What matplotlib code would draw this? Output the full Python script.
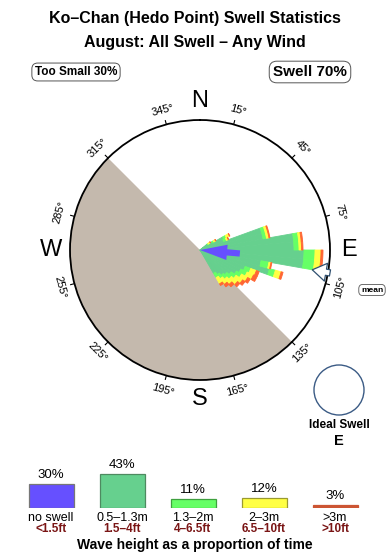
import numpy as np
import matplotlib
matplotlib.use("Agg")
import matplotlib.pyplot as plt
from matplotlib.patches import Circle

plt.rcParams['font.family'] = ['Liberation Sans', 'DejaVu Sans']

# swell rose, 5 degree bins, lengths per height class (circle edge = 13)
directions = [52.5, 57.5, 62.5, 67.5, 72.5, 77.5, 82.5, 87.5, 92.5, 97.5,
              102.5, 107.5, 112.5, 117.5, 122.5, 127.5, 132.5, 137.5, 142.5, 147.5]
h_green = [0.9, 1.4, 2.6, 2.5, 6.4, 6.4, 9.4, 9.4, 10.4, 10.4,
           6.2, 7.2, 4.8, 4.5, 4.2, 3.8, 3.5, 3.3, 3.0, 2.7]
h_lgreen = [0.1, 0.2, 0.3, 0.3, 0.35, 0.35, 0.5, 0.5, 1.1, 1.1,
            0.8, 0.6, 0.6, 0.7, 0.6, 0.6, 0.6, 0.5, 0.5, 0.5]
h_yellow = [0.25, 0.2, 0.35, 0.2, 0.25, 0.25, 0.25, 0.25, 0.6, 0.6,
            0.2, 0.6, 0.6, 0.7, 0.7, 0.8, 0.8, 0.7, 0.7, 0.7]
h_orange = [0.05, 0.05, 0.05, 0.05, 0.1, 0.1, 0.15, 0.15, 0.2, 0.2,
            0.1, 0.2, 0.3, 0.4, 0.3, 0.3, 0.3, 0.3, 0.3, 0.2]
rmax = 13.0

land_from, land_to = 135, 315
calm_dir, calm_len = 95, 4.0
mean_dir = 100

deg_labels = [15, 45, 75, 105, 135, 165, 195, 225, 255, 285, 315, 345]
compass = [('N', 0), ('E', 90), ('S', 180), ('W', 270)]

# legend
leg_pct = [30, 43, 11, 12, 3]
leg_names = ['no swell', '0.5\u20131.3m', '1.3\u20132m', '2\u20133m', '>3m']
leg_feet = ['<1.5ft', '1.5\u20134ft', '4\u20136.5ft', '6.5\u201310ft', '>10ft']
leg_colors = ['#6650FF', '#66D08E', '#66FF66', '#FFFF44', '#CC5533']
leg_edges = ['#777777', '#4E8A60', '#3FA03F', '#9A9A30', '#CC5533']

c_green, c_lgreen, c_yellow, c_orange = '#66D08E', '#66FF66', '#FFFF44', '#FF6633'
land_color = '#C4B9AD'

fig = plt.figure(figsize=(3.9, 5.6), dpi=100)

# pixel overlay for text
ax = fig.add_axes([0, 0, 1, 1])
ax.set_xlim(0, 390)
ax.set_ylim(560, 0)
ax.axis('off')

ax.text(195, 19, 'Ko\u2013Chan (Hedo Point) Swell Statistics', ha='center', va='center',
        fontsize=11.5, fontweight='bold')
ax.text(195, 42, 'August: All Swell \u2013 Any Wind', ha='center', va='center',
        fontsize=11.5, fontweight='bold')
ax.text(76, 72, 'Too Small 30%', ha='center', va='center', fontsize=8.5, fontweight='bold',
        bbox=dict(boxstyle='round,pad=0.25,rounding_size=0.5', fc='white', ec='#555555', lw=0.7))
ax.text(310, 72, 'Swell 70%', ha='center', va='center', fontsize=11, fontweight='bold',
        bbox=dict(boxstyle='round,pad=0.25,rounding_size=0.5', fc='white', ec='#555555', lw=0.7))
ax.text(372, 290, 'mean', ha='center', va='center', fontsize=6, fontweight='bold',
        bbox=dict(boxstyle='round,pad=0.25,rounding_size=0.5', fc='white', ec='#555555', lw=0.6))

ax.add_patch(Circle((339, 390), 25, fill=False, ec='#3B5B85', lw=1.0))
ax.text(339, 425, 'Ideal Swell', ha='center', va='center', fontsize=8.5, fontweight='bold')
ax.text(339, 441, 'E', ha='center', va='center', fontsize=10.5, fontweight='bold')

# rose
pax = fig.add_axes([70 / 390, 180 / 560, 260 / 390, 260 / 560], projection='polar')
pax.set_theta_zero_location('N')
pax.set_theta_direction(-1)
pax.set_ylim(0, rmax)
pax.set_xticks([])
pax.set_yticks([])
pax.grid(False)
pax.spines['polar'].set_linewidth(1.3)

land_w = land_to - land_from
pax.bar(np.deg2rad(land_from + land_w / 2), rmax, width=np.deg2rad(land_w),
        color=land_color, linewidth=0, zorder=1)

th = np.deg2rad(directions)
w = np.deg2rad(5)
bottom = np.zeros(len(directions))
for vals, col in [(h_green, c_green), (h_lgreen, c_lgreen), (h_yellow, c_yellow), (h_orange, c_orange)]:
    pax.bar(th, vals, width=w, bottom=bottom, color=col, edgecolor=col, linewidth=0.6, zorder=2)
    bottom = bottom + np.array(vals)

pax.annotate('', xy=(np.deg2rad(calm_dir), 0), xytext=(np.deg2rad(calm_dir), calm_len),
             arrowprops=dict(arrowstyle='simple,head_length=1.95,head_width=1.1,tail_width=0.45',
                             color='#6650FF', lw=0, shrinkA=0, shrinkB=0, mutation_scale=10),
             zorder=4)
pax.annotate('', xy=(np.deg2rad(mean_dir), 11.4), xytext=(np.deg2rad(mean_dir), 13.2),
             arrowprops=dict(arrowstyle='simple,head_length=1.0,head_width=1.3,tail_width=0.45',
                             fc='white', ec='#2F4F6F', lw=0.9, shrinkA=0, shrinkB=0,
                             mutation_scale=10),
             zorder=5, annotation_clip=False)

for d in deg_labels:
    t = np.deg2rad(d)
    pax.plot([t, t], [rmax, rmax * 1.03], color='black', lw=0.8, clip_on=False)
    if d < 90:
        rot = -d
    elif d < 270:
        rot = 180 - d
    else:
        rot = 360 - d
    pax.text(t, rmax * 1.115, f'{d}\u00b0', ha='center', va='center', rotation=rot,
             rotation_mode='anchor', fontsize=8, clip_on=False)

for name, d in compass:
    pax.text(np.deg2rad(d), rmax * 1.145, name, ha='center', va='center', fontsize=17,
             clip_on=False)

# legend bars
scale = 0.78
lax = fig.add_axes([0, (560 - 507.7) / 560, 1, 60 * scale / 560])
lax.set_xlim(0, 390)
lax.set_ylim(0, 60)
lax.axis('off')
centers = [51, 122, 193, 264, 335]
lax.bar(centers, leg_pct, width=45, color=leg_colors, edgecolor=leg_edges, linewidth=0.9)
for x, p in zip(centers, leg_pct):
    lax.annotate(f'{p}%', (x, p), xytext=(0, 2.5), textcoords='offset points',
                 ha='center', va='bottom', fontsize=9.5)

for x, n, f in zip(centers, leg_names, leg_feet):
    ax.text(x, 518, n, ha='center', va='center', fontsize=9)
    ax.text(x, 529, f, ha='center', va='center', fontsize=8.5, fontweight='bold', color='#7A1515')
ax.text(195, 545, 'Wave height as a proportion of time', ha='center', va='center',
        fontsize=10, fontweight='bold')

fig.savefig('out.png', dpi=100)
